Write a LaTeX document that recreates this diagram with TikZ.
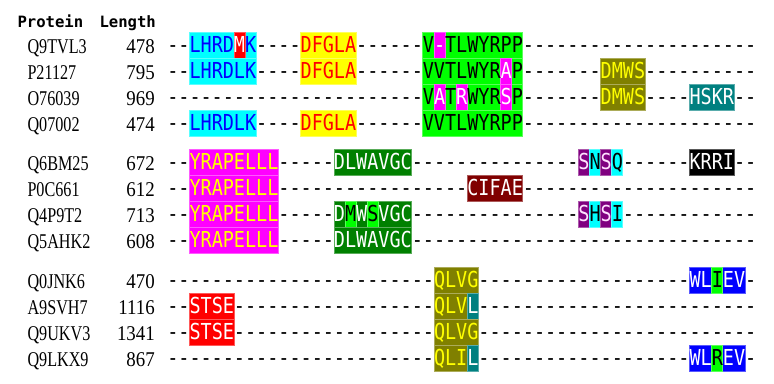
\documentclass[tikz,border=0pt]{standalone}
\usepackage{fontspec}
\usepackage{tikz}
\newfontfamily\seqfont{DejaVu Sans Mono}[FakeStretch=0.839]
\newfontfamily\hdfont{DejaVu Sans Mono}
\newfontfamily\idfont{Liberation Serif}[FakeStretch=0.77]
\newfontfamily\lenfont{Liberation Serif}[FakeStretch=0.9]
\definecolor{seqcyan}{rgb}{0,1,1}
\definecolor{seqmagenta}{rgb}{1,0,1}
\definecolor{seqyellow}{rgb}{1,1,0}
\definecolor{seqgreen}{rgb}{0,1,0}
\definecolor{seqred}{rgb}{1,0,0}
\definecolor{seqblue}{rgb}{0,0,1}
\definecolor{seqolive}{rgb}{0.5,0.5,0}
\definecolor{seqteal}{rgb}{0,0.5,0.5}
\definecolor{dkgreen}{rgb}{0,0.5,0}
\definecolor{seqpurple}{rgb}{0.5,0,0.5}
\definecolor{seqmaroon}{rgb}{0.5,0,0}
\definecolor{palepink}{rgb}{1,0.88,1}
\newcommand{\resc}[2]{\textcolor{#1}{#2}}
\ExplSyntaxOn
\newcommand{\gaps}[1]{\prg_replicate:nn{#1}{-}}
\ExplSyntaxOff

\begin{document}
\begin{tikzpicture}[x=1pt,y=-1pt,
  hdr/.style={font={\fontsize{15.6}{18}\hdfont\bfseries}, anchor=base west, inner sep=0pt},
  idlabel/.style={font={\fontsize{21}{24}\idfont}, anchor=base west, inner sep=0pt},
  lenlabel/.style={font={\fontsize{21}{24}\lenfont}, anchor=base east, inner sep=0pt},
  seqrow/.style={font={\fontsize{22}{26}\seqfont}, anchor=base west, inner sep=0pt},
  rescell/.style={fill=#1, draw=#1!65!white, line width=0.4pt}]
\useasboundingbox (0,0) rectangle (774,383);
% Header
\node[hdr] (hprot) at (17.3,27.5) {Protein};
\node[hdr] (hlen) at (99.3,27.5) {Length};
% Coloured residue cells: row top / first col / last col+1 / fill
\foreach \t/\a/\b/\bg in {
  32.3/2/8/seqcyan, 32.3/6/7/seqred, 32.3/12/17/seqyellow, 32.3/23/32/seqgreen, 32.3/24/25/seqmagenta,
  58.3/2/8/seqcyan, 58.3/12/17/seqyellow, 58.3/23/32/seqgreen, 58.3/30/31/seqmagenta, 58.3/39/43/seqolive,
  84.3/23/32/seqgreen, 84.3/24/25/seqmagenta, 84.3/26/27/seqmagenta, 84.3/30/31/seqmagenta, 84.3/39/43/seqolive, 84.3/47/51/seqteal,
  110.3/2/8/seqcyan, 110.3/12/17/seqyellow, 110.3/23/32/seqgreen,
  149.3/2/10/seqmagenta, 149.3/15/22/dkgreen, 149.3/37/38/seqpurple, 149.3/38/39/seqcyan, 149.3/39/40/seqpurple, 149.3/40/41/seqcyan, 149.3/47/51/black,
  175.3/2/10/seqmagenta, 175.3/27/32/seqmaroon,
  201.3/2/10/seqmagenta, 201.3/15/22/dkgreen, 201.3/16/17/seqgreen, 201.3/18/19/seqgreen, 201.3/37/38/seqpurple, 201.3/38/39/seqcyan, 201.3/39/40/seqpurple, 201.3/40/41/seqcyan,
  227.3/2/10/seqmagenta, 227.3/15/22/dkgreen,
  267.3/24/28/seqolive, 267.3/47/52/seqblue, 267.3/49/50/seqgreen,
  293.3/2/6/seqred, 293.3/24/28/seqolive, 293.3/27/28/seqteal,
  319.3/2/6/seqred, 319.3/24/28/seqolive,
  345.3/24/28/seqolive, 345.3/27/28/seqteal, 345.3/47/52/seqblue, 345.3/49/50/seqgreen}
  \path[rescell=\bg] ({167.1+\a*11.11},\t) rectangle ({167.1+\b*11.11},\t+26);
% Rows: row top / protein / length / aligned sequence
\foreach \t/\id/\len/\seq [count=\n] in {
  32.3/Q9TVL3/478/{\gaps{2}\resc{seqblue}{LHRD}\resc{white}{M}\resc{seqblue}{K}\gaps{4}\resc{seqred}{DFGLA}\gaps{6}V\resc{white}{-}TLWYRPP\gaps{21}},
  58.3/P21127/795/{\gaps{2}\resc{seqblue}{LHRDLK}\gaps{4}\resc{seqred}{DFGLA}\gaps{6}VVTLWYR\resc{white}{A}P\gaps{7}\resc{seqyellow}{DMWS}\gaps{10}},
  84.3/O76039/969/{\gaps{23}V\resc{white}{A}T\resc{white}{R}WYR\resc{white}{S}P\gaps{7}\resc{seqyellow}{DMWS}\gaps{4}\resc{white}{HSKR}\gaps{2}},
  110.3/Q07002/474/{\gaps{2}\resc{seqblue}{LHRDLK}\gaps{4}\resc{seqred}{DFGLA}\gaps{6}VVTLWYRPP\gaps{21}},
  149.3/Q6BM25/672/{\gaps{2}\resc{seqyellow}{YRAPELLL}\gaps{5}\resc{white}{DLWAVGC}\gaps{15}\resc{palepink}{S}N\resc{palepink}{S}Q\gaps{6}\resc{white}{KRRI}\gaps{2}},
  175.3/P0C661/612/{\gaps{2}\resc{seqyellow}{YRAPELLL}\gaps{17}\resc{white}{CIFAE}\gaps{21}},
  201.3/Q4P9T2/713/{\gaps{2}\resc{seqyellow}{YRAPELLL}\gaps{5}\resc{white}{D}M\resc{white}{W}S\resc{white}{VGC}\gaps{15}\resc{palepink}{S}H\resc{palepink}{S}I\gaps{12}},
  227.3/Q5AHK2/608/{\gaps{2}\resc{seqyellow}{YRAPELLL}\gaps{5}\resc{white}{DLWAVGC}\gaps{31}},
  267.3/Q0JNK6/470/{\gaps{24}\resc{seqyellow}{QLVG}\gaps{19}\resc{white}{WL}I\resc{white}{EV}\gaps{1}},
  293.3/A9SVH7/1116/{\gaps{2}\resc{white}{STSE}\gaps{18}\resc{seqyellow}{QLV}\resc{white}{L}\gaps{25}},
  319.3/Q9UKV3/1341/{\gaps{2}\resc{white}{STSE}\gaps{18}\resc{seqyellow}{QLVG}\gaps{25}},
  345.3/Q9LKX9/867/{\gaps{24}\resc{seqyellow}{QLI}\resc{white}{L}\gaps{19}\resc{white}{WL}R\resc{white}{EV}\gaps{1}}}
{
  \node[idlabel] (id\n) at (27.3,\t+21) {\id};
  \node[lenlabel] (len\n) at (155,\t+21) {\len};
  \node[seqrow] (seq\n) at (167.1,\t+20.5) {\seq};
}
\end{tikzpicture}
\end{document}
